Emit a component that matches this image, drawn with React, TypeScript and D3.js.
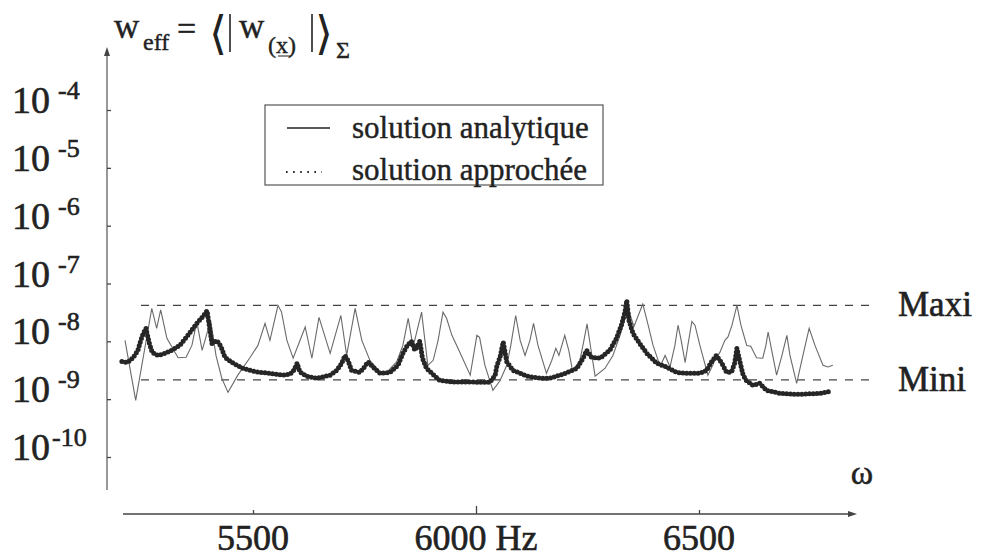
import { useEffect, useRef } from "react";
import * as d3 from "d3";

// solution analytique (thin solid line) — frequency in Hz, amplitude
const analytiqueHz = [
  5213, 5237, 5273, 5284, 5293, 5307, 5332, 5350, 5363, 5374, 5386, 5405, 5417, 5430, 5444,
  5466, 5493, 5511, 5527, 5538, 5556, 5564, 5576, 5590, 5617, 5632, 5648, 5673, 5697, 5710,
  5729, 5744, 5762, 5785, 5796, 5822, 5836, 5848, 5859, 5878, 5892, 5904, 5915, 5926, 5934,
  5946, 5964, 5987, 6002, 6008, 6020, 6038, 6054, 6069, 6078, 6089, 6099, 6110, 6121, 6129,
  6139, 6158, 6170, 6179, 6186, 6199, 6208, 6217, 6233, 6242, 6249, 6258, 6267, 6289, 6307,
  6323, 6334, 6345, 6354, 6374, 6386, 6397, 6413, 6424, 6435, 6446, 6453, 6460, 6469, 6475,
  6484, 6491, 6502, 6520, 6536, 6547, 6558, 6565, 6574, 6585, 6594, 6607, 6616, 6629, 6643,
  6650, 6655, 6664, 6674, 6686, 6697, 6704, 6719, 6733, 6747, 6760, 6778, 6789, 6800,
];
const analytiqueW = [
  1.04e-8, 9.5e-10, 3.7e-8, 1.68e-8, 3.5e-8, 1.13e-8, 5.2e-9, 5.3e-9, 8.5e-9, 2.2e-8, 7.0e-9, 2.3e-8, 5.7e-9, 2.3e-9, 1.31e-9,
  2.6e-9, 5.2e-9, 8.5e-9, 2.05e-8, 1.04e-8, 4.2e-8, 3.2e-8, 1.04e-8, 5.1e-9, 1.77e-8, 5.1e-9, 2.6e-8, 6.2e-9, 2.8e-8, 5.7e-9,
  3.7e-8, 1.04e-8, 4.7e-9, 2.95e-9, 2.7e-9, 4.4e-9, 8.5e-9, 2.5e-8, 8.0e-9, 3.2e-8, 3.85e-9, 4.7e-9, 1.04e-8, 3.2e-8, 2.5e-8,
  1.27e-8, 6.4e-9, 2.6e-9, 1.27e-8, 1.17e-8, 3.85e-9, 1.42e-9, 2.1e-9, 3.85e-9, 8.5e-9, 2.8e-8, 1.04e-8, 5.7e-9, 1.04e-8, 2.05e-8,
  8.5e-9, 2.8e-9, 4.7e-9, 7.6e-9, 5.7e-9, 1.27e-8, 7.0e-9, 2.95e-9, 4.7e-9, 1.04e-8, 2.0e-8, 7.0e-9, 2.5e-9, 3.4e-9, 5.7e-9,
  1.27e-8, 2.5e-8, 3.0e-8, 1.8e-8, 4.4e-8, 1.9e-8, 8.5e-9, 3.7e-9, 5.7e-9, 3.6e-9, 8.5e-9, 1.9e-8, 1.04e-8, 4.3e-9, 8.5e-9,
  2.2e-8, 1.9e-8, 8.5e-9, 2.6e-9, 4.7e-9, 6.5e-9, 1.04e-8, 1.19e-8, 1.9e-8, 4.2e-8, 1.9e-8, 8.5e-9, 8.2e-9, 5.2e-9, 5.1e-9,
  8.5e-9, 1.45e-8, 6.4e-9, 2.6e-9, 5.7e-9, 1.27e-8, 5.7e-9, 1.88e-9, 5.7e-9, 1.68e-8, 8.5e-9, 3.85e-9, 3.6e-9, 3.85e-9,
];

// solution approchée (thick dotted line)
const approcheeHz = [
  5206, 5218, 5231, 5242, 5247, 5253, 5260, 5267, 5274, 5287, 5303, 5318, 5336, 5354, 5374,
  5388, 5397, 5408, 5419, 5428, 5437, 5453, 5478, 5508, 5538, 5567, 5583, 5592, 5599, 5605,
  5620, 5643, 5673, 5688, 5699, 5706, 5713, 5721, 5740, 5751, 5758, 5769, 5785, 5807, 5825,
  5836, 5846, 5855, 5863, 5874, 5880, 5889, 5901, 5919, 5948, 5987, 6031, 6043, 6047, 6054,
  6058, 6061, 6069, 6083, 6114, 6144, 6166, 6195, 6226, 6240, 6248, 6259, 6278, 6300, 6315,
  6326, 6334, 6338, 6343, 6352, 6367, 6383, 6405, 6427, 6450, 6472, 6502, 6517, 6528, 6539,
  6551, 6562, 6573, 6580, 6585, 6591, 6599, 6606, 6621, 6636, 6651, 6682, 6719, 6771, 6797,
];
const approcheeW = [
  4.5e-9, 4.3e-9, 5.2e-9, 7.0e-9, 9.6e-9, 1.32e-8, 1.68e-8, 9.6e-9, 6.4e-9, 5.7e-9, 6.2e-9, 7.0e-9, 8.5e-9, 1.27e-8, 2.05e-8,
  2.7e-8, 3.4e-8, 9.2e-9, 1.04e-8, 8.2e-9, 5.3e-9, 4.3e-9, 3.4e-9, 2.95e-9, 2.8e-9, 2.6e-9, 2.7e-9, 3.2e-9, 4.2e-9, 2.95e-9,
  2.5e-9, 2.3e-9, 2.6e-9, 3.15e-9, 4.2e-9, 5.7e-9, 4.7e-9, 3.15e-9, 2.9e-9, 3.7e-9, 4.4e-9, 3.6e-9, 2.8e-9, 2.9e-9, 3.85e-9,
  6.2e-9, 8.5e-9, 1.0e-8, 7.0e-9, 1.0e-8, 5.1e-9, 3.4e-9, 2.8e-9, 2.1e-9, 1.98e-9, 1.98e-9, 1.95e-9, 2.6e-9, 3.85e-9, 5.3e-9,
  7.6e-9, 9.7e-9, 4.4e-9, 3.15e-9, 2.5e-9, 2.3e-9, 2.3e-9, 2.7e-9, 3.4e-9, 5.1e-9, 7.0e-9, 5.3e-9, 5.1e-9, 7.0e-9, 1.13e-8,
  1.9e-8, 3.2e-8, 5.1e-8, 2.3e-8, 1.37e-8, 9.2e-9, 6.2e-9, 4.2e-9, 3.6e-9, 2.9e-9, 2.8e-9, 2.8e-9, 3.15e-9, 4.4e-9, 5.7e-9,
  4.2e-9, 2.9e-9, 2.95e-9, 4.2e-9, 7.6e-9, 4.7e-9, 2.6e-9, 2.1e-9, 1.73e-9, 1.88e-9, 1.42e-9, 1.26e-9, 1.21e-9, 1.26e-9, 1.37e-9,
];

const decades = [-4, -5, -6, -7, -8, -9, -10];
const xTicks = [5500, 6000, 6500];
const xTickLabels = ["5500", "6000 Hz", "6500"];
const maxiValue = 4.2e-8;
const miniValue = 2.15e-9;
const legendLabels = ["solution analytique", "solution approchée"];

const App = () => {
  const svgRef = useRef<SVGSVGElement>(null);

  useEffect(() => {
    const W = 983;
    const H = 557;
    const ink = "#222";
    const font = "'Liberation Serif', 'Times New Roman', serif";

    const svg = d3.select(svgRef.current);
    svg.selectAll("*").remove();
    svg.append("rect").attr("width", W).attr("height", H).attr("fill", "#fff");

    const x = d3.scaleLinear().domain([5500, 6500]).range([253, 699]);
    const y = d3.scaleLog().domain([1e-10, 1e-4]).range([457, 110]);

    // scanned look: slightly heavier glyphs
    const heavy = (sel: any, w = 0.5) =>
      sel.attr("stroke", ink).attr("stroke-width", w).attr("paint-order", "stroke");

    // Y axis with arrow
    const yAxisX = 107;
    svg.append("line")
      .attr("x1", yAxisX).attr("x2", yAxisX)
      .attr("y1", 490).attr("y2", 52)
      .attr("stroke", "#555").attr("stroke-width", 1.2);
    svg.append("path")
      .attr("d", `M${yAxisX - 3},${56} L${yAxisX},${47} L${yAxisX + 3},${56} Z`)
      .attr("fill", "#444");

    const yAxis = svg.append("g")
      .attr("transform", `translate(${yAxisX},0)`)
      .call(d3.axisRight(y).tickValues(decades.map(d => Math.pow(10, d))).tickSize(4).tickFormat(() => ""));
    yAxis.select(".domain").remove();
    yAxis.selectAll(".tick line").attr("stroke", "#444").attr("stroke-width", 1.3);

    // Y tick labels 10^n
    decades.forEach(d => {
      const ty = y(Math.pow(10, d));
      const t = svg.append("text")
        .attr("x", 12).attr("y", ty + 3)
        .attr("font-family", font).attr("font-size", 38).attr("fill", ink);
      heavy(t, 0.6);
      t.append("tspan").text("10");
      t.append("tspan")
        .attr("dx", d === -10 ? 2 : 8).attr("dy", -14)
        .attr("font-size", 26)
        .text(String(d));
    });

    // Y title: w_eff = <| w_(x) |>_Σ
    const title = svg.append("g").attr("font-family", font).attr("fill", ink);
    heavy(title, 0.4);
    title.append("text").attr("x", 114).attr("y", 38).attr("font-size", 35).text("w");
    title.append("text").attr("x", 143).attr("y", 50).attr("font-size", 24).text("eff");
    title.append("text").attr("x", 177).attr("y", 40).attr("font-size", 34).text("=");
    title.append("text").attr("x", 209).attr("y", 49).attr("font-size", 46)
      .attr("font-family", "'DejaVu Serif', serif").attr("font-weight", 200).attr("stroke-width", 0).text("⟨");
    title.append("line").attr("x1", 230).attr("x2", 230).attr("y1", 14).attr("y2", 52).attr("stroke", ink).attr("stroke-width", 1.6);
    title.append("text").attr("x", 239).attr("y", 38).attr("font-size", 35).text("w");
    title.append("text").attr("x", 268).attr("y", 53).attr("font-size", 24).text("(x)");
    title.append("line").attr("x1", 278).attr("x2", 291).attr("y1", 56).attr("y2", 56).attr("stroke", ink).attr("stroke-width", 1);
    title.append("line").attr("x1", 312).attr("x2", 312).attr("y1", 14).attr("y2", 52).attr("stroke", ink).attr("stroke-width", 1.6);
    title.append("text").attr("x", 315).attr("y", 49).attr("font-size", 46)
      .attr("font-family", "'DejaVu Serif', serif").attr("font-weight", 200).attr("stroke-width", 0).text("⟩");
    title.append("text").attr("x", 336).attr("y", 58).attr("font-size", 24).text("Σ");

    // X axis with arrow
    const xAxisY = 514;
    svg.append("line")
      .attr("x1", 123).attr("x2", 850)
      .attr("y1", xAxisY).attr("y2", xAxisY)
      .attr("stroke", "#444").attr("stroke-width", 1.4);
    svg.append("path")
      .attr("d", `M${848},${xAxisY - 3} L${857},${xAxisY} L${848},${xAxisY + 3} Z`)
      .attr("fill", "#444");
    const xAxis = svg.append("g")
      .attr("transform", `translate(0,${xAxisY})`)
      .call(d3.axisTop(x).tickValues(xTicks).tickSize(4).tickFormat(() => ""));
    xAxis.select(".domain").remove();
    xAxis.selectAll(".tick line")
      .attr("stroke", "#444").attr("stroke-width", 1.3)
      .attr("y2", (d: any) => (d === 6000 ? -8 : -4));

    xTicks.forEach((v, i) => {
      const t = svg.append("text")
        .attr("x", x(v)).attr("y", 550)
        .attr("text-anchor", "middle")
        .attr("font-family", font).attr("font-size", 36).attr("fill", ink)
        .text(xTickLabels[i]);
      heavy(t, 0.6);
    });

    heavy(svg.append("text")
      .attr("x", 862).attr("y", 484)
      .attr("text-anchor", "middle")
      .attr("font-family", font).attr("font-size", 34).attr("fill", ink)
      .text("ω"), 0.5);

    // Maxi / Mini reference lines
    [[maxiValue, "Maxi"], [miniValue, "Mini"]].forEach(([v, lab]) => {
      const yy = y(v as number);
      svg.append("line")
        .attr("x1", 141).attr("x2", 877)
        .attr("y1", yy).attr("y2", yy)
        .attr("stroke", "#444").attr("stroke-width", 1.3)
        .attr("stroke-dasharray", "8 8");
      heavy(svg.append("text")
        .attr("x", 898).attr("y", yy + 11)
        .attr("font-family", font).attr("font-size", 35).attr("fill", ink)
        .text(lab as string), 0.6);
    });

    // Series
    const line = d3.line<[number, number]>().x(d => x(d[0])).y(d => y(d[1]));
    const anaData = analytiqueHz.map((f, i) => [f, analytiqueW[i]] as [number, number]);
    const appData = approcheeHz.map((f, i) => [f, approcheeW[i]] as [number, number]);

    svg.append("path")
      .attr("d", line(anaData))
      .attr("fill", "none")
      .attr("stroke", "#6a6a6a").attr("stroke-width", 1.1);

    svg.append("path")
      .attr("d", line(appData))
      .attr("fill", "none")
      .attr("stroke", "#262626").attr("stroke-width", 5)
      .attr("stroke-linecap", "round")
      .attr("stroke-dasharray", "0 3.8");

    // Legend
    const lg = svg.append("g").attr("font-family", font).attr("fill", ink);
    lg.append("rect")
      .attr("x", 265).attr("y", 105).attr("width", 338).attr("height", 80)
      .attr("fill", "#fff").attr("stroke", "#555").attr("stroke-width", 1.2);
    lg.append("line").attr("x1", 287).attr("x2", 330).attr("y1", 128).attr("y2", 128)
      .attr("stroke", ink).attr("stroke-width", 1.6);
    lg.append("line").attr("x1", 286).attr("x2", 322).attr("y1", 172).attr("y2", 172)
      .attr("stroke", ink).attr("stroke-width", 1.8).attr("stroke-dasharray", "1.6 5.5");
    legendLabels.forEach((lab, i) => {
      heavy(lg.append("text")
        .attr("x", 352).attr("y", 138 + i * 42)
        .attr("font-size", 31)
        .text(lab), 0.4);
    });
  }, []);

  return (
    <svg
      ref={svgRef}
      width={983}
      height={557}
      style={{ position: "absolute", left: 0, top: 0, display: "block" }}
    ></svg>
  );
};

export default App;
